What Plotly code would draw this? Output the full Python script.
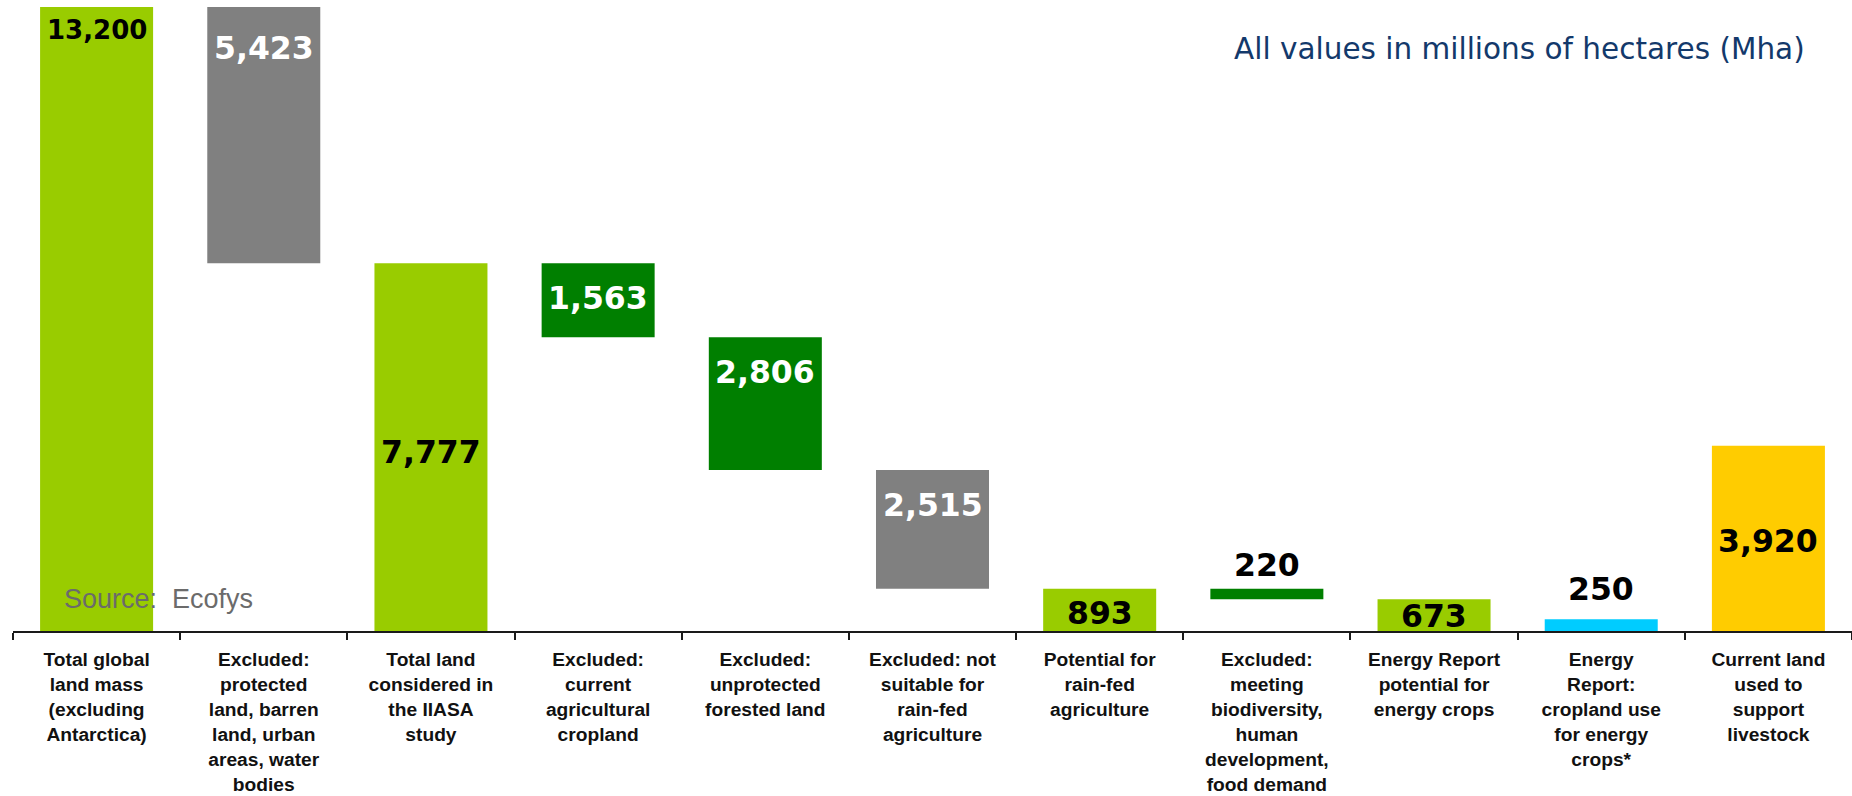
import plotly.graph_objects as go

# Land-availability cascade, millions of hectares
categories = [
    "Total global<br>land mass<br>(excluding<br>Antarctica)",
    "Excluded:<br>protected<br>land, barren<br>land, urban<br>areas, water<br>bodies",
    "Total land<br>considered in<br>the IIASA<br>study",
    "Excluded:<br>current<br>agricultural<br>cropland",
    "Excluded:<br>unprotected<br>forested land",
    "Excluded: not<br>suitable for<br>rain-fed<br>agriculture",
    "Potential for<br>rain-fed<br>agriculture",
    "Excluded:<br>meeting<br>biodiversity,<br>human<br>development,<br>food demand",
    "Energy Report<br>potential for<br>energy crops",
    "Energy<br>Report:<br>cropland use<br>for energy<br>crops*",
    "Current land<br>used to<br>support<br>livestock",
]
values = [13200, 5423, 7777, 1563, 2806, 2515, 893, 220, 673, 250, 3920]
# "total" bars stand on zero, "excluded" bars hang from the running level
kinds = ["total", "excluded", "total", "excluded", "excluded", "excluded",
         "total", "excluded", "total", "total", "total"]

# Styling
bar_colors = ["#99CC00", "#808080", "#99CC00", "#007F00", "#007F00", "#808080",
              "#99CC00", "#007F00", "#99CC00", "#00CCFF", "#FFCC00"]
label_colors = ["black", "white", "black", "white", "white", "white",
                "black", "black", "black", "black", "black"]
label_sizes = [26, 31.5, 31.5, 31.5, 31.5, 31.5, 31.5, 31.5, 31.5, 31.5, 31.5]
# vertical placement of each value label, in data units
label_y = [12720, 12327, 3787, 7038, 5479, 2665, 381, 1396, 317, 888, 1904]

bases = []
level = 0
for v, k in zip(values, kinds):
    if k == "total":
        bases.append(0)
        level = v
    else:
        level -= v
        bases.append(level)

fig = go.Figure(
    go.Bar(
        x=categories,
        y=values,
        base=bases,
        marker=dict(color=bar_colors, line=dict(width=0)),
        hoverinfo="skip",
    )
)

for cat, v, c, s, ly in zip(categories, values, label_colors, label_sizes, label_y):
    fig.add_annotation(
        x=cat, y=ly, xref="x", yref="y",
        text=f"{v:,}", showarrow=False,
        xanchor="center", yanchor="middle",
        font=dict(family="DejaVu Sans", size=s, color=c, weight="bold"),
    )

fig.add_annotation(
    x=0.0266, y=0.0513, xref="paper", yref="paper",
    text="Source:&nbsp; Ecofys", showarrow=False,
    xanchor="left", yanchor="middle",
    font=dict(family="Liberation Sans", size=27, color="#6B6B6B"),
)
fig.add_annotation(
    x=0.9755, y=0.9327, xref="paper", yref="paper",
    text="All values in millions of hectares (Mha)", showarrow=False,
    xanchor="right", yanchor="middle",
    font=dict(family="DejaVu Sans", size=29.5, color="#13396B"),
)

fig.update_layout(
    width=1852, height=796,
    margin=dict(l=13, r=0, t=7, b=165, autoexpand=False),
    paper_bgcolor="white", plot_bgcolor="white",
    bargap=0.324,
    showlegend=False,
    xaxis=dict(
        type="category",
        automargin=False,
        showline=True, linecolor="#1A1A1A", linewidth=2,
        ticks="outside", ticklen=7, tickwidth=2, tickcolor="#1A1A1A",
        tickson="boundaries",
        showgrid=False, zeroline=False,
        tickangle=0,
        ticklabelstandoff=10,
        tickfont=dict(family="Liberation Sans", size=19.2, color="#111111", weight="bold"),
    ),
    yaxis=dict(range=[0, 13200], visible=False, showgrid=False, zeroline=False),
)

fig.write_html("out.html")
